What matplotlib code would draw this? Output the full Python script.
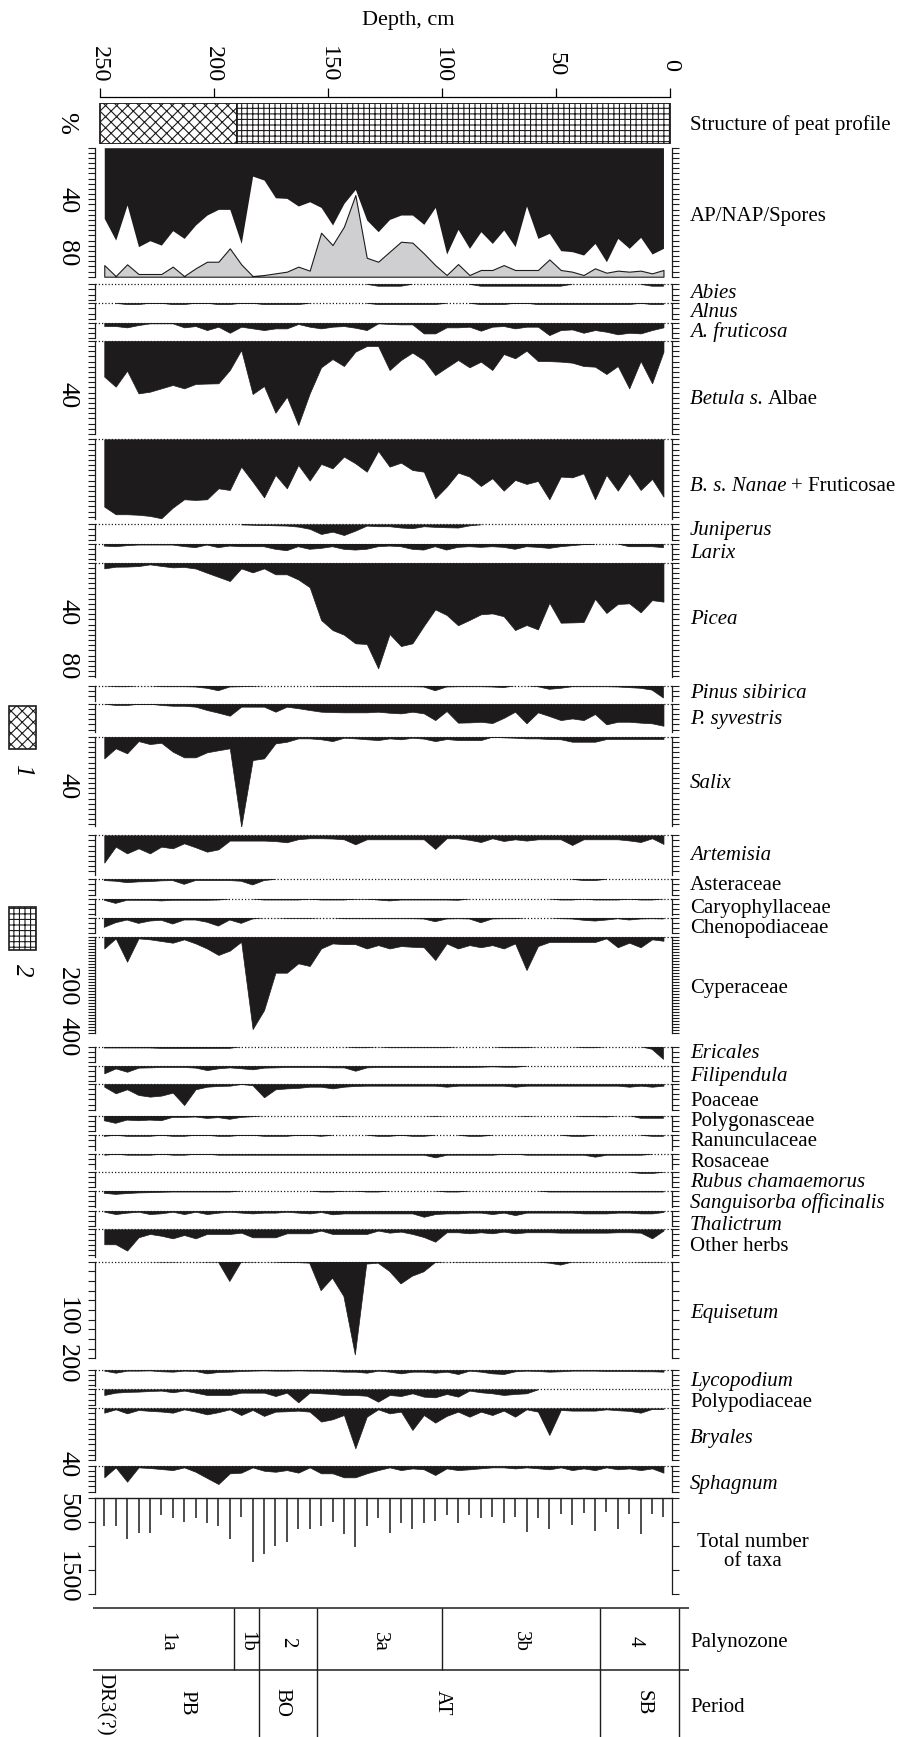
import matplotlib
matplotlib.use("Agg")
import matplotlib.pyplot as plt
import matplotlib.transforms as mtransforms
from matplotlib.ticker import MultipleLocator
from matplotlib.patches import Rectangle

plt.rcParams['font.family'] = ['Liberation Serif', 'DejaVu Serif']
plt.rcParams['hatch.linewidth'] = 0.8

# ---------------- data ----------------
depth = [248, 243, 238, 233, 228, 223, 218, 213, 208, 203,
         198, 193, 188, 183, 178, 173, 168, 163, 158, 153,
         148, 143, 138, 133, 128, 123, 118, 113, 108, 103,
         98, 93, 88, 83, 78, 73, 68, 63, 58, 53,
         48, 43, 38, 33, 28, 23, 18, 13, 8, 3]

# AP/NAP/Spores (% of total): AP from top, spores from bottom, NAP in between
ap = [54.8, 71.6, 44.4, 76.7, 72.1, 75.5, 64.3, 70.3, 59.9, 52.2,
      47.8, 47.8, 74.2, 22.0, 25.1, 38.8, 39.3, 45.2, 41.9, 46.3,
      59.9, 43.2, 32.3, 56.1, 65.1, 55.6, 52.2, 52.2, 59.4, 46.3,
      82.4, 63.3, 78.0, 65.1, 74.2, 63.8, 76.7, 45.2, 70.3, 66.4,
      79.8, 80.6, 83.2, 74.2, 88.4, 70.3, 78.0, 69.5, 82.4, 78.0]
spores = [9.0, 0.5, 9.6, 2.1, 2.1, 2.1, 7.8, 0.5, 6.5, 11.6,
          11.6, 22.0, 9.6, 0.5, 1.3, 2.6, 3.9, 7.8, 4.7, 34.1,
          24.5, 38.8, 63.3, 14.7, 11.6, 19.4, 27.1, 26.4, 18.1, 9.0,
          1.3, 9.8, 1.3, 5.2, 5.2, 9.0, 5.2, 5.2, 5.2, 13.4,
          5.2, 3.9, 1.3, 6.5, 3.1, 4.7, 3.9, 4.7, 2.6, 5.2]

abies = [0, 0, 0, 0, 0, 0, 0, 0, 0, 0,
         0, 0, 0, 0, 0, 0, 0, 0, 0, 0,
         0, 0, 0, 0, 1.5, 1.5, 1.5, 0, 0, 0,
         0, 0, 0, 1.5, 1.5, 1.5, 1.5, 1.5, 1.5, 1.5,
         1.5, 0, 0, 0, 0, 0, 0, 0, 1.5, 1.5]
alnus = [0, 0, 1, 1, 0, 0, 1, 1, 0, 0,
         1, 1, 0, 0, 1, 1, 1, 1, 0, 0,
         0, 0, 0, 0, 1, 1, 1, 1, 1, 1,
         0, 0, 0, 1, 1, 1, 0, 0, 1, 1,
         1, 1, 1, 1, 1, 1, 1, 0, 1, 1]
a_fruticosa = [2.6, 2.6, 3.6, 1.8, 0.5, 0.5, 0.5, 3.6, 2.6, 5.7,
               3.1, 7.8, 3.1, 4.4, 5.7, 4.4, 4.4, 1.0, 3.1, 4.4,
               3.1, 2.6, 3.9, 5.7, 0.5, 1.0, 1.3, 1.3, 8.3, 8.3,
               3.6, 3.6, 3.1, 6.2, 3.1, 2.6, 4.4, 3.1, 3.1, 9.6,
               5.7, 5.2, 7.8, 5.7, 7.0, 9.0, 7.8, 8.3, 5.7, 3.6]
betula = [27.6, 35.4, 23.0, 40.6, 39.3, 36.7, 34.1, 36.7, 33.3, 33.0,
          32.8, 22.5, 7.0, 41.1, 34.9, 55.6, 43.2, 65.1, 40.6, 20.4,
          14.0, 19.4, 8.3, 3.9, 3.9, 22.5, 14.7, 9.0, 14.7, 26.4,
          20.5, 14.7, 20.4, 16.0, 22.5, 10.1, 13.4, 7.5, 15.5, 15.6,
          16.0, 16.8, 19.4, 19.9, 25.6, 19.4, 36.7, 15.5, 32.8, 8.3]
nanae = [52.2, 58.1, 58.1, 58.5, 59.4, 61.2, 53.0, 46.5, 47.0, 46.5,
         38.0, 39.3, 21.2, 32.8, 45.0, 27.6, 38.0, 19.9, 32.0, 19.1,
         22.5, 13.4, 18.6, 25.1, 9.0, 21.2, 18.1, 23.8, 25.1, 45.7,
         36.7, 25.8, 28.9, 36.2, 30.2, 39.8, 31.5, 34.6, 32.3, 46.5,
         28.9, 29.5, 26.4, 46.5, 27.6, 39.8, 26.4, 39.3, 30.7, 44.4]
juniperus = [0, 0, 0, 0, 0, 0, 0, 0, 0, 0,
             0, 0, 0, 0.3, 0.5, 0.8, 1.0, 1.8, 3.5, 7.5,
             5.7, 8.3, 4.9, 1.0, 1.5, 1.5, 2.5, 3.0, 1.5, 2.0,
             2.3, 2.5, 0.8, 0, 0, 0, 0, 0, 0, 0,
             0, 0, 0, 0, 0, 0, 0, 0, 0, 0]
larix = [1.6, 2.1, 1.3, 0.8, 0.8, 0.8, 0.8, 2.0, 2.8, 0.8,
         2.8, 1.6, 2.1, 2.1, 2.1, 4.1, 5.2, 2.1, 4.1, 3.4,
         2.1, 4.1, 4.7, 4.1, 2.1, 1.6, 2.1, 4.1, 4.7, 2.1,
         4.7, 2.6, 2.1, 2.6, 2.1, 2.6, 4.1, 2.1, 2.6, 3.4,
         2.1, 1.3, 0.5, 0, 0, 0, 2.1, 2.1, 2.1, 2.8]
picea = [4.4, 3.1, 3.0, 2.6, 1.3, 2.5, 3.6, 3.3, 4.5, 7.8,
         11.0, 14.2, 4.4, 7.5, 4.4, 9.0, 9.0, 13.0, 19.0, 44.4,
         52.2, 55.8, 62.5, 63.0, 81.9, 55.3, 64.6, 62.5, 49.0, 36.2,
         40.5, 48.5, 44.4, 40.0, 39.3, 41.5, 52.2, 48.3, 51.7, 31.0,
         46.5, 46.3, 46.0, 28.0, 39.0, 32.0, 31.5, 38.5, 29.0, 30.2]
pinus_sibirica = [0, 0.8, 0.8, 0, 0, 0.8, 0.8, 0.8, 1.0, 2.0,
                  3.9, 1.0, 0.8, 0.5, 0, 0, 0, 0, 0, 0.5,
                  0.5, 0.8, 0.8, 0.8, 0.8, 0.8, 0.8, 0.8, 1.0, 3.9,
                  1.0, 0.8, 0.8, 0.8, 1.0, 1.5, 0, 0, 0.8, 2.8,
                  2.0, 0.8, 0.8, 0.8, 0.8, 1.0, 1.5, 2.0, 3.4, 9.5]
pinus_sylvestris = [0, 1.0, 1.0, 0, 0, 1.0, 1.6, 1.6, 2.3, 4.9,
                    7.0, 9.3, 2.3, 2.3, 2.3, 6.2, 2.3, 3.5, 4.9, 6.2,
                    6.5, 6.7, 6.7, 6.7, 6.2, 7.0, 7.5, 6.2, 7.5, 12.7,
                    5.7, 14.7, 14.5, 14.0, 15.0, 11.0, 6.2, 15.2, 6.7, 9.6,
                    12.7, 11.4, 12.7, 8.0, 16.0, 14.0, 14.0, 14.7, 15.2, 17.1]
salix = [16.8, 9.0, 12.9, 3.4, 5.7, 4.7, 11.6, 16.0, 16.0, 12.1,
         10.5, 9.0, 69.8, 18.1, 16.8, 5.2, 3.9, 1.3, 1.3, 2.0,
         3.4, 0.8, 1.3, 2.0, 2.6, 1.3, 2.0, 0.8, 1.5, 3.4,
         1.8, 2.6, 2.6, 2.6, 0, 0.5, 0.8, 1.3, 1.3, 1.8,
         2.0, 3.9, 3.9, 3.9, 1.8, 1.8, 1.8, 1.8, 1.8, 1.8]
artemisia = [21.2, 8.8, 14.0, 10.1, 14.0, 8.8, 10.1, 6.2, 9.3, 12.7,
             10.9, 4.1, 4.1, 4.1, 4.1, 4.5, 5.4, 3.0, 2.3, 2.3,
             2.5, 3.1, 7.0, 3.1, 3.1, 3.1, 3.1, 3.1, 3.1, 10.6,
             2.3, 2.3, 3.5, 5.2, 2.3, 4.4, 3.1, 4.1, 3.1, 3.1,
             3.1, 7.5, 3.1, 3.1, 3.1, 3.1, 4.0, 5.2, 2.3, 6.7]
asteraceae = [1.0, 1.5, 2.6, 2.0, 1.8, 1.2, 1.0, 3.9, 1.0, 1.0,
              1.0, 1.0, 1.5, 4.4, 1.0, 0, 0, 0, 0, 0,
              0, 0, 0, 0, 0, 0, 0, 0, 0, 0,
              0, 0, 0, 0, 0, 0, 0, 0, 0, 0,
              0, 0, 1.0, 1.0, 0, 0, 0, 0, 0, 0]
caryophyllaceae = [1.0, 3.4, 1.0, 1.0, 1.0, 1.5, 1.0, 1.0, 1.0, 1.0,
                   0.8, 0, 0, 0, 0.8, 0.8, 0.8, 0.8, 0, 0.8,
                   0.8, 0.8, 0, 0, 0.8, 1.5, 0.8, 0.8, 0.8, 0.8,
                   0.8, 1.0, 0, 0, 0, 0, 0, 0, 0, 0,
                   0.8, 0.8, 0, 0.8, 0.8, 0.8, 0, 0.8, 0.8, 0]
chenopodiaceae = [7.5, 3.9, 1.8, 4.4, 2.6, 2.0, 4.9, 1.8, 1.8, 3.5,
                  6.5, 1.8, 4.4, 1.0, 0, 0, 0.5, 0.5, 0.5, 0,
                  0, 0.8, 0.8, 0.8, 0.8, 0.8, 0.8, 0.8, 1.0, 3.1,
                  1.0, 0.8, 1.0, 3.9, 1.0, 0.8, 0.8, 0, 0, 0,
                  0.8, 1.0, 2.0, 2.6, 1.8, 0.8, 1.8, 1.0, 0.8, 1.0]
cyperaceae = [49, 7, 104, 7, 11, 18, 25, 11, 28, 49,
              76, 58, 21, 385, 306, 150, 150, 111, 122, 49,
              28, 31, 31, 49, 35, 49, 39, 42, 44, 97,
              28, 49, 35, 44, 35, 49, 28, 139, 39, 22,
              22, 22, 22, 22, 7, 44, 25, 44, 11, 17]
ericales = [1.0, 1.0, 1.0, 1.0, 1.0, 1.3, 1.3, 1.3, 1.3, 1.3,
            1.3, 1.3, 0, 0, 0, 0, 0, 0, 0, 0,
            0, 0, 0.8, 0.8, 0, 0.8, 0.8, 0.8, 0.8, 0.8,
            0.8, 0, 0, 0, 0, 0.8, 0.8, 0.8, 0, 0,
            0, 0, 0.8, 0.8, 0, 0, 0, 0, 2.0, 9.8]
filipendula = [5.9, 2.1, 4.7, 1.5, 1.3, 1.0, 1.0, 1.0, 1.5, 3.4,
               2.0, 1.3, 2.0, 2.8, 1.5, 1.3, 1.0, 1.0, 1.0, 1.0,
               1.3, 1.3, 3.9, 1.3, 1.0, 1.0, 1.0, 1.0, 1.0, 1.0,
               1.0, 1.0, 1.0, 0.8, 0.5, 0.8, 0.8, 0, 0, 0,
               0, 0, 0, 0, 0, 0, 0, 0, 0, 0]
poaceae = [2.1, 7.2, 4.1, 8.5, 9.8, 9.0, 6.7, 16.3, 4.1, 2.1,
           1.5, 1.3, 0, 1.0, 10.3, 4.1, 3.4, 3.0, 2.1, 2.1,
           3.4, 2.1, 1.5, 1.3, 1.3, 1.3, 1.3, 1.3, 1.3, 1.3,
           2.1, 1.3, 1.3, 1.3, 1.3, 1.3, 2.1, 1.3, 1.3, 1.3,
           1.3, 1.3, 1.3, 1.3, 1.3, 1.3, 2.1, 1.3, 2.1, 1.3]
polygonaceae = [3.9, 5.9, 3.4, 3.9, 3.4, 3.9, 1.3, 1.3, 1.0, 2.1,
                1.5, 2.8, 1.3, 0.8, 0, 0, 0, 0, 0, 0,
                0, 0.5, 0, 0, 0, 0, 0, 0, 0, 0.5,
                0, 0, 0, 0, 0, 0, 0, 0.5, 0, 0,
                0, 0, 0.8, 0.8, 1.0, 0, 0, 2.0, 2.0, 2.0]
ranunculaceae = [0.8, 0, 0.8, 0.8, 0.8, 0, 0.8, 0.8, 0, 0,
                 0.8, 0.8, 0, 0, 0.8, 0.8, 0.8, 0, 0, 0.8,
                 0, 0, 0, 0, 0.8, 0.8, 0, 0.8, 0.8, 0,
                 0, 0, 0.8, 0.8, 0, 0, 0, 0, 0, 0,
                 0, 0.8, 0.8, 0, 0, 0, 0, 0, 0.8, 0.8]
rosaceae = [0.8, 0, 0.8, 0.8, 0.8, 0, 0.8, 0.8, 0, 0,
            0.8, 0.8, 0.8, 0.8, 0.8, 0.8, 0.8, 0.8, 0.8, 0.8,
            0.8, 0.8, 0.8, 0.8, 0.8, 0.8, 0.8, 0.8, 0.8, 2.8,
            0.8, 0.8, 0.8, 0.8, 0.8, 0, 0, 0.8, 0.8, 0.8,
            0.8, 0.8, 0.8, 2.3, 0.8, 0.8, 0.8, 0.8, 0, 0]
rubus = [0, 0, 0, 0, 0, 0, 0, 0, 0, 0,
         0, 0, 0, 0, 0, 0, 0, 0, 0, 0,
         0, 0, 0, 0, 0, 0, 0, 0, 0, 0,
         0, 0, 0, 0, 0, 0, 0, 0, 0, 0,
         0, 0, 0, 0, 0, 0, 0, 1.0, 1.0, 0]
sanguisorba = [1.8, 2.6, 2.0, 1.5, 1.3, 1.0, 0.8, 0.8, 0.8, 0.8,
               0.8, 0.8, 0, 0, 0, 0, 0, 0, 0, 0.8,
               0.8, 0, 0, 0.8, 0.8, 0, 0, 0, 0, 0,
               0.8, 0.8, 0, 0, 0, 0, 0, 0, 0, 0.8,
               0.8, 0.8, 0.8, 0.8, 0.8, 0.8, 0.8, 0.8, 0.8, 0.8]
thalictrum = [0.8, 2.6, 1.5, 0.8, 2.6, 2.0, 0.8, 2.6, 0.8, 2.6,
              1.5, 0.8, 1.5, 2.1, 1.5, 1.5, 0.8, 1.5, 2.1, 1.0,
              2.8, 2.1, 2.1, 2.1, 2.1, 2.1, 2.1, 2.1, 4.7, 2.6,
              2.1, 2.1, 1.5, 1.5, 2.6, 1.5, 3.4, 1.5, 1.5, 1.5,
              1.5, 1.5, 2.1, 2.1, 2.1, 1.5, 1.5, 2.1, 2.1, 1.0]
other_herbs = [11.6, 11.6, 16.5, 6.2, 3.6, 5.0, 7.0, 4.4, 7.0, 3.6,
               3.6, 3.6, 2.6, 6.2, 6.2, 6.2, 3.1, 3.1, 3.1, 1.0,
               3.6, 3.6, 3.6, 3.6, 1.0, 2.6, 1.8, 3.6, 6.0, 9.6,
               2.3, 2.3, 3.1, 2.3, 3.1, 1.8, 3.1, 2.3, 2.3, 2.3,
               2.6, 2.6, 2.6, 2.6, 2.6, 2.3, 2.3, 2.6, 7.0, 1.0]
equisetum = [0, 0, 0, 0, 0, 0.8, 0.8, 0, 0, 0.8,
             0.8, 41, 1, 0.8, 0, 0.8, 2, 2, 3, 60,
             34, 72, 193, 5, 3, 20, 46, 30, 21, 2,
             0, 0.8, 0.8, 0.8, 0.8, 0.8, 0.8, 0.8, 0.8, 3,
             7, 0.8, 0.8, 0, 0, 0, 0, 0.8, 0.8, 0.8]
lycopodium = [0.5, 2.1, 0.5, 0.5, 0.3, 1.0, 1.3, 0.5, 0.8, 2.6,
              1.5, 1.3, 0.8, 0.5, 0.3, 0.5, 0.5, 0.3, 0.5, 0.5,
              0.8, 1.3, 1.3, 2.1, 0.5, 1.3, 2.6, 1.3, 1.3, 2.1,
              1.3, 3.1, 0.5, 1.3, 2.6, 3.1, 1.0, 0.5, 0.8, 1.3,
              1.0, 0.5, 0.5, 0.5, 0.8, 0.8, 0.8, 1.0, 1.0, 1.3]
polypodiaceae = [4.4, 2.6, 2.0, 1.8, 1.3, 1.0, 2.3, 1.0, 2.6, 4.4,
                 4.4, 4.4, 2.6, 2.6, 2.6, 5.2, 2.6, 10.1, 2.6, 3.1,
                 3.6, 4.4, 4.4, 5.0, 9.6, 4.4, 5.2, 3.1, 5.7, 6.2,
                 3.6, 5.7, 1.0, 2.3, 3.1, 4.4, 3.6, 3.1, 0, 0,
                 0, 0, 0, 0, 0, 0, 0, 0, 0, 0]
bryales = [3.4, 0.8, 3.9, 1.3, 2.0, 2.5, 3.4, 0.8, 2.5, 4.7,
           3.0, 0.8, 5.2, 1.3, 5.9, 2.6, 2.3, 1.8, 2.6, 10.3,
           8.5, 5.2, 31.0, 6.5, 0.8, 3.9, 2.6, 16.8, 5.2, 11.1,
           5.9, 2.6, 6.5, 2.6, 5.2, 1.8, 6.5, 0.8, 2.6, 20.7,
           1.3, 1.8, 1.8, 1.8, 0.8, 1.5, 2.0, 3.4, 0.5, 0.5]
sphagnum = [9.0, 1.3, 12.4, 1.3, 1.8, 2.6, 3.4, 1.3, 4.7, 9.5,
            14.2, 5.9, 5.4, 1.3, 3.9, 4.7, 3.4, 5.4, 1.3, 5.9,
            5.9, 9.0, 9.0, 5.9, 3.4, 1.3, 3.4, 2.1, 2.8, 7.2,
            2.1, 3.4, 2.8, 2.0, 1.3, 1.3, 2.1, 1.3, 2.0, 2.8,
            1.3, 3.4, 2.1, 3.4, 1.3, 2.8, 2.1, 3.4, 2.1, 5.4]
total_taxa = [579, 579, 848, 724, 724, 359, 428, 497, 428, 531,
              586, 848, 393, 1324, 1172, 1000, 910, 641, 641, 586,
              497, 752, 1028, 579, 428, 738, 531, 655, 517, 476,
              359, 531, 359, 428, 393, 517, 393, 703, 428, 641,
              345, 566, 324, 690, 290, 641, 345, 752, 345, 393]

peat_bounds = [250, 190, 0]
peat_hatches = ['xxx', '+++']

zone_names = ['1a', '1b', '2', '3a', '3b', '4']
zone_bounds = [250, 191, 180, 155, 100, 31, 0]
period_names = ['DR3(?)', 'PB', 'BO', 'AT', 'SB']
period_label_depth = [248, 212, 170, 100, 12]
period_bounds = [180, 155, 31]

# ---------------- layout (pixels) ----------------
W, H = 903, 1737
INK = '#1e1b1c'
X0, X1 = 95, 672
DEPTH_LEFT, DEPTH_RIGHT = 252.06, -0.74
PX_PCT = 1.29
TABLE_END = -3.8

fig = plt.figure(figsize=(W / 100, H / 100), dpi=100)
renderer = fig.canvas.get_renderer()


def px_axes(x, y, w, h):
    return fig.add_axes([x / W, 1 - (y + h) / H, w / W, h / H])


def right_label(y, parts):
    # parts: list of (text, style) drawn one after another
    x = 690.0
    for text, style in parts:
        t = fig.text(x / W, 1 - y / H, text, fontsize=15, fontstyle=style,
                     ha='left', va='center')
        x += t.get_window_extent(renderer).width + 4.5


def base_panel(top, height, ymax, step):
    ax = px_axes(X0, top, X1 - X0, height)
    ax.set_xlim(DEPTH_LEFT, DEPTH_RIGHT)
    ax.set_ylim(ymax, 0)
    ax.set_facecolor('none')
    ax.spines['top'].set_visible(False)
    ax.spines['bottom'].set_visible(False)
    for s in ('left', 'right'):
        ax.spines[s].set_linewidth(0.9)
        ax.spines[s].set_color(INK)
    ax.set_xticks([])
    ax.yaxis.set_major_locator(MultipleLocator(step))
    ax.tick_params(axis='y', left=True, right=True, direction='out',
                   length=5, width=0.8, color=INK,
                   labelleft=False, labelright=False)
    return ax


def curve_panel(vals, top, height, ymax=None, step=4):
    if ymax is None:
        ymax = height / PX_PCT
    ax = base_panel(top, height, ymax, step)
    ax.plot([DEPTH_LEFT, DEPTH_RIGHT], [0, 0], color=INK, lw=0.9,
            ls=(0, (1, 1.6)), clip_on=False)
    n = len(vals)
    mask = [vals[i] > 0 or (i > 0 and vals[i - 1] > 0) or (i < n - 1 and vals[i + 1] > 0)
            for i in range(n)]
    ax.fill_between(depth, 0, vals, where=mask, facecolor=INK,
                    edgecolor=INK, lw=0.5)
    return ax


def left_value_labels(ax, labels):
    # labels: list of (text, position on the panel's value axis)
    tr = mtransforms.blended_transform_factory(fig.transFigure, ax.transData)
    for text, v in labels:
        ax.text(67 / W, v, text, transform=tr, fontsize=19, rotation=270,
                ha='center', va='center', clip_on=False)


# ---------------- depth axis ----------------
ax_d = px_axes(X0, 88, X1 - X0, 9)
ax_d.set_xlim(DEPTH_LEFT, DEPTH_RIGHT)
ax_d.set_ylim(0, 1)
ax_d.set_facecolor('none')
for s in ('top', 'left', 'right'):
    ax_d.spines[s].set_visible(False)
ax_d.spines['bottom'].set_bounds(250, 0)
ax_d.spines['bottom'].set_linewidth(0.9)
ax_d.set_yticks([])
ax_d.set_xticks([250, 200, 150, 100, 50, 0])
ax_d.tick_params(axis='x', direction='in', length=6.2, width=0.9,
                 labelbottom=False)
for d in [250, 200, 150, 100, 50, 0]:
    ax_d.text(d, 3.6, str(d), transform=ax_d.get_xaxis_transform(),
              rotation=270, ha='center', va='center', fontsize=17.5)
fig.text(408 / W, 1 - 21 / H, 'Depth, cm', fontsize=16, ha='center',
         va='center')
fig.text(66 / W, 1 - 123 / H, '%', fontsize=19, rotation=270,
         ha='center', va='center')

# ---------------- peat structure ----------------
ax_p = px_axes(X0, 103, X1 - X0, 41)
ax_p.set_xlim(DEPTH_LEFT, DEPTH_RIGHT)
ax_p.set_ylim(0, 1)
ax_p.axis('off')
for k, hatch in enumerate(peat_hatches):
    ax_p.add_patch(Rectangle((peat_bounds[k + 1], 0),
                             peat_bounds[k] - peat_bounds[k + 1], 1,
                             facecolor='white', edgecolor=INK, hatch=hatch,
                             lw=1.3))
right_label(125, [('Structure of peat profile', 'normal')])

# ---------------- AP / NAP / Spores ----------------
ax = base_panel(147.7, 129, 100, 4)
ax.fill_between(depth, 0, ap, color=INK, lw=0)
ax.fill_between(depth, [100 - s for s in spores], 100, facecolor='#cfcfd1',
                edgecolor=INK, lw=0.8)
left_value_labels(ax, [('40', 40.5), ('80', 82)])
right_label(216.7, [('AP/NAP/Spores', 'normal')])

# ---------------- taxa panels ----------------
IT, RM = 'italic', 'normal'
panels = [
    # values, top, height, label parts, label y, left labels, ymax, tick step
    (abies, 284.3, 15.5, [('Abies', IT)], 293.3, [], None, 4),
    (alnus, 303.3, 15.5, [('Alnus', IT)], 312.3, [], None, 4),
    (a_fruticosa, 322.7, 15.5, [('A. fruticosa', IT)], 332.3, [], None, 4),
    (betula, 341.0, 93.0, [('Betula s.', IT), ('Albae', RM)], 399, [('40', 42)], None, 4),
    (nanae, 439.3, 80.0, [('B. s. Nanae', IT), ('+ Fruticosae', RM)], 486.7, [], None, 4),
    (juniperus, 524.3, 15.5, [('Juniperus', IT)], 530.5, [], None, 4),
    (larix, 544.0, 15.5, [('Larix', IT)], 553.3, [], None, 4),
    (picea, 562.7, 114.0, [('Picea', IT)], 620, [('40', 38), ('80', 80)], None, 4),
    (pinus_sibirica, 685.7, 15.0, [('Pinus sibirica', IT)], 694, [], None, 4),
    (pinus_sylvestris, 703.7, 28.0, [('P. syvestris', IT)], 719.3, [], None, 4),
    (salix, 736.7, 89.3, [('Salix', IT)], 783.3, [('40', 38)], None, 4),
    (artemisia, 835.3, 39.7, [('Artemisia', IT)], 856, [], None, 4),
    (asteraceae, 879.3, 15.5, [('Asteraceae', RM)], 885.5, [], None, 4),
    (caryophyllaceae, 899.0, 15.5, [('Caryophyllaceae', RM)], 908.3, [], None, 4),
    (chenopodiaceae, 917.7, 15.5, [('Chenopodiaceae', RM)], 928.3, [], None, 4),
    (cyperaceae, 936.7, 96.0, [('Cyperaceae', RM)], 988.3, [('200', 208), ('400', 418)], 400, 12.5),
    (ericales, 1046.7, 15.5, [('Ericales', IT)], 1053.3, [], None, 4),
    (filipendula, 1065.7, 15.5, [('Filipendula', IT)], 1076.7, [], None, 4),
    (poaceae, 1084.0, 26.0, [('Poaceae', RM)], 1101.7, [], None, 4),
    (polygonaceae, 1115.7, 15.5, [('Polygonasceae', RM)], 1121.7, [], None, 4),
    (ranunculaceae, 1135.3, 15.0, [('Ranunculaceae', RM)], 1141.7, [], None, 4),
    (rosaceae, 1153.7, 15.0, [('Rosaceae', RM)], 1162.7, [], None, 4),
    (rubus, 1171.7, 15.5, [('Rubus chamaemorus', IT)], 1182.7, [], None, 4),
    (sanguisorba, 1191.0, 15.5, [('Sanguisorba officinalis', IT)], 1203.3, [], None, 4),
    (thalictrum, 1210.7, 15.5, [('Thalictrum', IT)], 1225, [], None, 4),
    (other_herbs, 1229.3, 27.4, [('Other herbs', RM)], 1246.7, [], None, 4),
    (equisetum, 1261.7, 96.6, [('Equisetum', IT)], 1313.3, [('100', 114), ('200', 212)], 200, 20),
    (lycopodium, 1370.0, 15.5, [('Lycopodium', IT)], 1381.7, [], None, 4),
    (polypodiaceae, 1389.3, 15.5, [('Polypodiaceae', RM)], 1402.7, [], None, 4),
    (bryales, 1408.3, 51.6, [('Bryales', IT)], 1438.3, [('40', 43)], 40, 4),
    (sphagnum, 1465.7, 26.0, [('Sphagnum', IT)], 1484, [], None, 4),
]

for vals, top, h, parts, ly, lv, ymax, step in panels:
    ax = curve_panel(vals, top, h, ymax, step)
    if lv:
        left_value_labels(ax, lv)
    right_label(ly, parts)

# ---------------- total number of taxa ----------------
ax = base_panel(1497.7, 96.6, 2000, 500)
ax.plot([DEPTH_LEFT, DEPTH_RIGHT], [0, 0], color=INK, lw=1.0, clip_on=False)
ax.vlines(depth, 0, total_taxa, color=INK, lw=1.1)
left_value_labels(ax, [('500', 317), ('1500', 1642)])
fig.text(753 / W, 1 - 1552 / H, 'Total number\nof taxa', fontsize=15,
         ha='center', va='center', linespacing=1.05)

# ---------------- zones / periods ----------------
ax_z = px_axes(X0, 1607.7, X1 - X0, H - 1607.7)
ax_z.set_xlim(DEPTH_LEFT, DEPTH_RIGHT)
ax_z.set_ylim(H - 1607.7, 0)
ax_z.axis('off')
row = 62.3
bottom = H - 1607.7
ax_z.hlines([0, row], 252.9, -8.2, color=INK, lw=1.1, clip_on=False)
ax_z.vlines(zone_bounds[1:-1], 0, row, color=INK, lw=1.0, clip_on=False)
ax_z.vlines(period_bounds, row, bottom, color=INK, lw=1.0, clip_on=False)
ax_z.vlines([TABLE_END], 0, bottom, color=INK, lw=1.0, clip_on=False)
for k, name in enumerate(zone_names):
    mid = (zone_bounds[k] + zone_bounds[k + 1]) / 2
    ax_z.text(mid, 34, name, rotation=270, ha='center', va='center',
              fontsize=15)
for k, name in enumerate(period_names):
    if k == 0:
        ax_z.text(period_label_depth[k], row + 3, name, rotation=270,
                  ha='center', va='top', fontsize=15, clip_on=False)
    else:
        ax_z.text(period_label_depth[k], 95.3, name, rotation=270,
                  ha='center', va='center', fontsize=15)
right_label(1643, [('Palynozone', RM)])
right_label(1708, [('Period', RM)])

# ---------------- legend boxes ----------------
for (y0, hatch, num) in [(706, 'xxx', '1'), (906.7, '+++', '2')]:
    axl = px_axes(8.6, y0, 27.1, 43.3)
    axl.axis('off')
    axl.add_patch(Rectangle((0, 0), 1, 1, facecolor='white', edgecolor=INK,
                            hatch=hatch, lw=1.2, transform=axl.transAxes,
                            clip_on=False))
    fig.text(22 / W, 1 - (y0 + 64) / H, num, fontsize=18, fontstyle='italic',
             rotation=270, ha='center', va='center')

fig.savefig('out.png', dpi=100)
